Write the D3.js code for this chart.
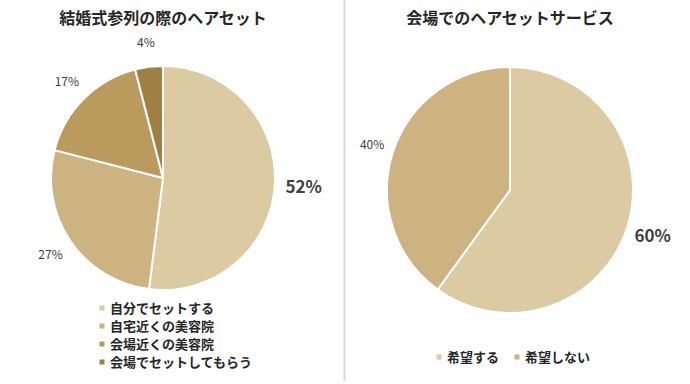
<!DOCTYPE html>
<html>
<head>
<meta charset="utf-8">
<script src="https://cdn.jsdelivr.net/npm/d3@7"></script>
<style>
  body { margin: 0; background: #fff; }
  text { font-family: "Noto Sans CJK JP", "Noto Sans", sans-serif; }
</style>
</head>
<body>
<div id="chart"></div>
<script>
// 結婚式参列の際のヘアセット
var hairLabels = ["自分でセットする", "自宅近くの美容院", "会場近くの美容院", "会場でセットしてもらう"];
var hairValues = [52, 27, 17, 4];
var hairColors = ["#dbcaa2", "#cdb282", "#bb9b5d", "#a07f45"];

// 会場でのヘアセットサービス
var serviceLabels = ["希望する", "希望しない"];
var serviceValues = [60, 40];
var serviceColors = ["#dbcaa2", "#cdb282"];

var W = 690, H = 384;

var svg = d3.select("#chart")
    .append("svg")
    .attr("width", W)
    .attr("height", H);

// 仕切り線
svg.append("line")
    .attr("x1", 344.5).attr("x2", 344.5)
    .attr("y1", 0).attr("y2", 381)
    .attr("stroke", "#d9d9d9")
    .attr("stroke-width", 2);

function drawPie(opt) {
    var g = svg.append("g");

    g.append("text")
        .attr("x", opt.cx)
        .attr("y", 24)
        .attr("text-anchor", "middle")
        .style("font-size", "16px")
        .style("font-weight", "bold")
        .attr("fill", "#262626")
        .text(opt.title);

    var pie = d3.pie().sort(null).value(function (d) { return d; });
    var arcs = pie(opt.values);
    var arc = d3.arc().innerRadius(0).outerRadius(opt.r);
    var labelArc = d3.arc().innerRadius(opt.r + opt.off).outerRadius(opt.r + opt.off);

    var pg = g.append("g").attr("transform", "translate(" + opt.cx + "," + opt.cy + ")");

    pg.selectAll("path")
        .data(arcs)
        .enter()
        .append("path")
        .attr("d", arc)
        .attr("fill", function (d, i) { return opt.colors[i]; })
        .attr("stroke", "#fff")
        .attr("stroke-width", 2);

    pg.selectAll("text")
        .data(arcs)
        .enter()
        .append("text")
        .attr("transform", function (d, i) {
            var c = labelArc.centroid(d);
            if (i === 0) {
                // 大きい値のラベルは少し外側
                var k = (opt.r + opt.off + 5) / (opt.r + opt.off);
                c = [c[0] * k, c[1] * k];
            }
            return "translate(" + c[0] + "," + c[1] + ")";
        })
        .attr("text-anchor", "middle")
        .attr("dy", "0.35em")
        .style("font-size", function (d, i) { return i === 0 ? "17px" : "12px"; })
        .style("font-weight", function (d, i) { return i === 0 ? "bold" : "normal"; })
        .attr("fill", "#404040")
        .text(function (d) { return d.data + "%"; });

    // 凡例
    var lg = g.append("g");
    var items = lg.selectAll("g")
        .data(opt.labels)
        .enter()
        .append("g")
        .attr("transform", function (d, i) {
            return "translate(" + opt.legendPos[i][0] + "," + opt.legendPos[i][1] + ")";
        });
    items.append("rect")
        .attr("x", -2.5).attr("y", -2.5)
        .attr("width", 5).attr("height", 5)
        .attr("fill", function (d, i) { return opt.colors[i]; });
    items.append("text")
        .attr("x", 8)
        .attr("dy", "0.35em")
        .style("font-size", "13px")
        .style("font-weight", "bold")
        .attr("fill", "#262626")
        .text(function (d) { return d; });
}

drawPie({
    title: "結婚式参列の際のヘアセット",
    cx: 163, cy: 178, r: 112, off: 24,
    values: hairValues, colors: hairColors, labels: hairLabels,
    legendPos: hairLabels.map(function (d, i) { return [102, 308 + i * 18]; })
});

drawPie({
    title: "会場でのヘアセットサービス",
    cx: 510, cy: 190, r: 123, off: 22,
    values: serviceValues, colors: serviceColors, labels: serviceLabels,
    legendPos: [[439, 357], [517, 357]]
});
</script>
</body>
</html>
